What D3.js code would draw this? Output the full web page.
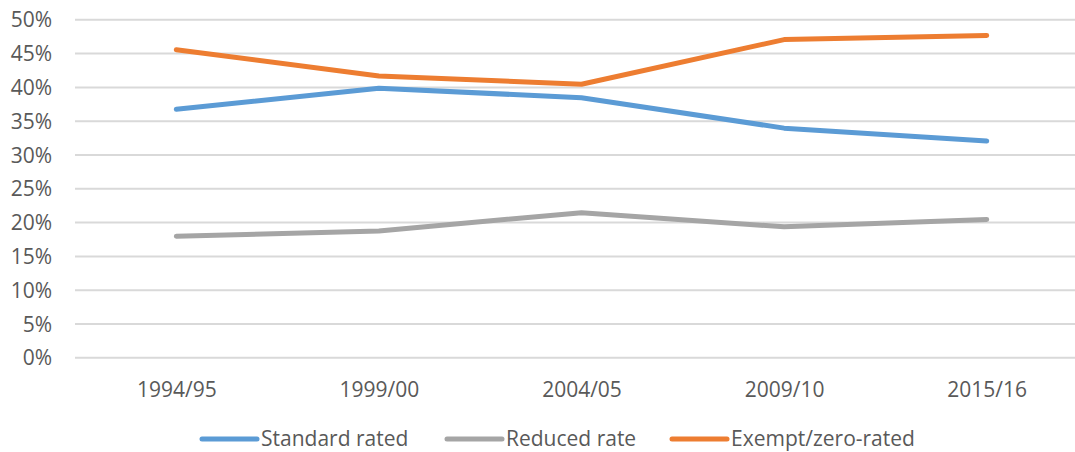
<!DOCTYPE html>
<html><head><meta charset="utf-8">
<script src="https://cdn.jsdelivr.net/npm/d3@7"></script>
<style>body{margin:0;background:#fff}svg{display:block}text{font-family:"Open Sans",Lato,sans-serif;fill:#595959}</style>
</head><body><svg id="c" width="1075" height="452"></svg>
<script>
const categories = ["1994/95","1999/00","2004/05","2009/10","2015/16"];
const standardRated = [36.7, 39.8, 38.4, 33.9, 32.0];
const reducedRate = [17.9, 18.7, 21.4, 19.3, 20.4];
const exemptZero = [45.5, 41.6, 40.4, 47.0, 47.6];
const yTicks = [0,5,10,15,20,25,30,35,40,45,50];
const seriesNames = ["Standard rated","Reduced rate","Exempt/zero-rated"];
const colors = ["#5B9BD5","#A5A5A5","#ED7D31"];
const series = [standardRated, reducedRate, exemptZero];

const svg = d3.select("#c");
const mLeft = 75, mRight = 1088, mTop = 19.3, mBottom = 357.3;
const x = d3.scalePoint().domain(categories).range([mLeft, mRight]).padding(0.5);
const y = d3.scaleLinear().domain([0,50]).range([mBottom, mTop]);

const gy = svg.append("g").attr("transform",`translate(${mLeft},0)`)
  .call(d3.axisLeft(y).tickValues(yTicks).tickSize(-(1075-mLeft)).tickFormat(d=>d+"%"));
gy.select(".domain").remove();
gy.selectAll("line").attr("stroke","#D9D9D9").attr("stroke-width",2);
gy.selectAll("text").attr("x",-23).attr("dy","0.36em").style("font-size","21px").attr("fill","#595959");

const gx = svg.append("g").attr("transform",`translate(0,${mBottom})`)
  .call(d3.axisBottom(x).tickSize(0));
gx.select(".domain").remove();
gx.selectAll("text").attr("dy","0").attr("y",39.5).style("font-size","21px").attr("fill","#595959");

const line = d3.line().x((d,i)=>x(categories[i])).y(d=>y(d));
series.forEach((s,k)=>{
  svg.append("path").datum(s).attr("d",line).attr("fill","none")
    .attr("stroke",colors[k]).attr("stroke-width",5).attr("stroke-linecap","round").attr("stroke-linejoin","round");
});

const legX = [202, 447, 672];
const lg = svg.append("g");
seriesNames.forEach((n,k)=>{
  lg.append("line").attr("x1",legX[k]).attr("x2",legX[k]+55).attr("y1",439).attr("y2",439)
    .attr("stroke",colors[k]).attr("stroke-width",5).attr("stroke-linecap","round");
  lg.append("text").attr("x",legX[k]+59).attr("y",446).text(n).style("font-size","21px");
});
</script></body></html>
